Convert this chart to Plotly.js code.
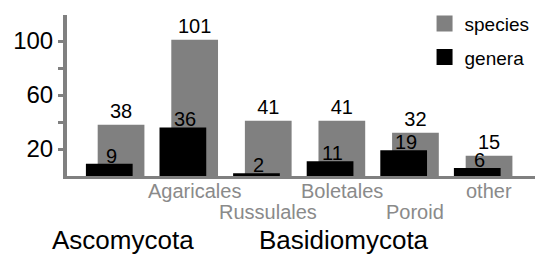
<!DOCTYPE html>
<html>
<head>
<meta charset="utf-8">
<script src="https://cdn.plot.ly/plotly-3.0.1.min.js"></script>
<style>html,body{margin:0;padding:0;background:#fff;}#chart{width:535px;height:254px;}</style>
</head>
<body>
<div id="chart"></div>
<script>
// ---- data ----
const groups = ["Ascomycota", "Agaricales", "Russulales", "Boletales", "Poroid", "other"];
const phylumOf = ["Ascomycota", "Basidiomycota", "Basidiomycota", "Basidiomycota", "Basidiomycota", "Basidiomycota"];
const phyla = ["Ascomycota", "Basidiomycota"];
const species = [38, 101, 41, 41, 32, 15];
const genera = [9, 36, 2, 11, 19, 6];
const seriesNames = ["species", "genera"];
const yTickVals = [20, 40, 60, 80, 100];
const yTickText = ["20", "", "60", "", "100"];

// ---- styles ----
const FONT = "Liberation Sans, Arial, sans-serif";
const GRAY = "#808080";
const LABEL_GRAY = "#8a8a8a";
const COLORS = [GRAY, "#000"];
const idx = groups.map((_, i) => i);

const BAR_W = 0.635;
const SPECIES_OFF = -0.235;
const GENERA_OFF = -0.395;

const traces = [
  {
    type: "bar", name: seriesNames[0], x: idx, y: species,
    width: BAR_W, offset: SPECIES_OFF, marker: {color: COLORS[0], line: {width: 0}},
    text: species.map(String), textposition: "outside", cliponaxis: false,
    textfont: {family: FONT, size: 20, color: "#000"},
    showlegend: false, hoverinfo: "y"
  },
  {
    type: "bar", name: seriesNames[1], x: idx, y: genera,
    width: BAR_W, offset: GENERA_OFF, marker: {color: COLORS[1], line: {width: 0}},
    showlegend: false, hoverinfo: "y"
  },
  // legend entries (square swatches)
  ...seriesNames.map((n, k) => ({
    type: "scatter", mode: "markers", name: n, x: [null], y: [null],
    marker: {symbol: "square", size: 16, color: COLORS[k]},
    legendgroup: "g" + k, showlegend: true, hoverinfo: "skip"
  }))
];

const annotations = [];
// genera value labels, sitting just on top of the black bars
genera.forEach((v, i) => {
  annotations.push({
    x: i + GENERA_OFF + BAR_W / 2 + 0.03, xref: "x", y: v, yref: "y",
    text: String(v), showarrow: false, xanchor: "center", yanchor: "bottom",
    yshift: -5, font: {family: FONT, size: 20, color: "#000"}
  });
});
// order labels, alternating rows, centred on the species bars
groups.forEach((g, i) => {
  if (i === 0) return;
  annotations.push({
    x: i + SPECIES_OFF + BAR_W / 2, xref: "x", y: (i % 2 === 1) ? -0.093 : -0.224, yref: "paper",
    text: g, showarrow: false, xanchor: "center", yanchor: "middle",
    font: {family: FONT, size: 20, color: LABEL_GRAY}
  });
});
// phylum labels
phyla.forEach(p => {
  const members = idx.filter(i => phylumOf[i] === p);
  const mid = members.reduce((a, b) => a + b, 0) / members.length;
  annotations.push({
    x: mid + 0.11, xref: "x", y: -0.40, yref: "paper",
    text: p, showarrow: false, xanchor: "center", yanchor: "middle",
    font: {family: FONT, size: 26, color: "#000"}
  });
});

const layout = {
  width: 535, height: 254,
  margin: {l: 67, r: 0, t: 15, b: 78, pad: 0},
  paper_bgcolor: "#fff", plot_bgcolor: "#fff",
  barmode: "overlay",
  showlegend: true,
  legend: {
    x: 0.764, xanchor: "left", y: 1.065, yanchor: "top",
    font: {family: FONT, size: 19, color: "#000"},
    traceorder: "grouped", tracegroupgap: 6, itemsizing: "trace",
    bgcolor: "rgba(0,0,0,0)", borderwidth: 0
  },
  xaxis: {
    range: [-0.652, 5.707], showgrid: false, zeroline: false,
    showline: true, linecolor: GRAY, linewidth: 3,
    showticklabels: false, ticks: "", fixedrange: true
  },
  yaxis: {
    range: [0, 119.3], showgrid: false, zeroline: false,
    showline: true, linecolor: GRAY, linewidth: 4,
    tickvals: yTickVals, ticktext: yTickText,
    ticks: "outside", ticklen: 5, tickwidth: 3, tickcolor: GRAY,
    tickfont: {family: FONT, size: 24, color: "#000"}, fixedrange: true
  },
  annotations: annotations,
  font: {family: FONT}
};

Plotly.newPlot("chart", traces, layout, {displayModeBar: false, staticPlot: true});
</script>
</body>
</html>
